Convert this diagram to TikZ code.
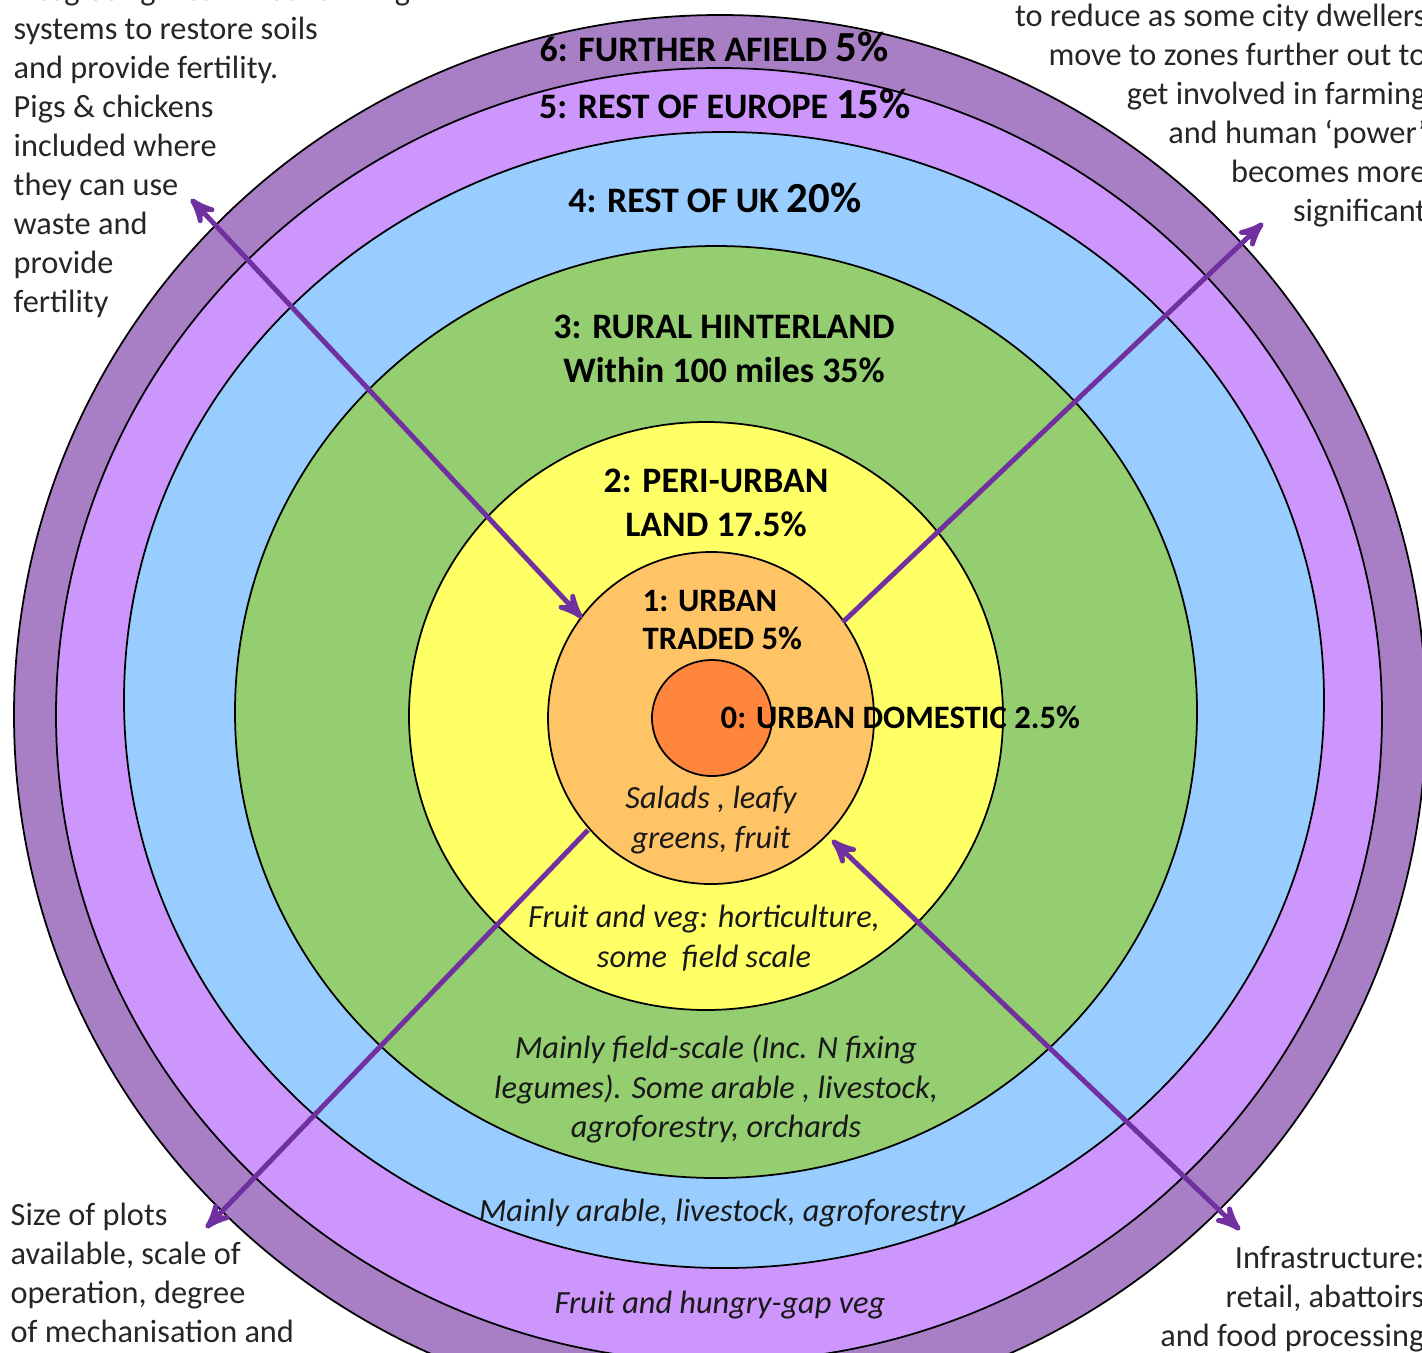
\documentclass[tikz,border=0pt]{standalone}
\usepackage{fontspec}
\setmainfont{Carlito}
\usetikzlibrary{arrows}
\definecolor{furtherpurple}{RGB}{168,127,196}
\definecolor{europelilac}{RGB}{204,150,252}
\definecolor{ukblue}{RGB}{153,204,255}
\definecolor{ruralgreen}{RGB}{148,206,112}
\definecolor{periyellow}{RGB}{255,255,102}
\definecolor{urbanorange}{RGB}{255,196,102}
\definecolor{domesticorange}{RGB}{255,134,60}
\definecolor{arrowpurple}{RGB}{112,48,160}
\definecolor{notegray}{RGB}{38,38,38}

\tikzset{
  zonehead/.style={font=\bfseries\fontsize{10.2}{12.5}\selectfont, align=center, inner sep=0},
  innerhead/.style={font=\bfseries\fontsize{9.3}{11}\selectfont, align=left, inner sep=0},
  zonenote/.style={font=\itshape\fontsize{9.2}{11.2}\selectfont, align=center, inner sep=0, text=black!90},
  sidenote/.style={font=\fontsize{9.2}{11.1}\selectfont, inner sep=0, text=notegray},
  flow/.style={arrowpurple, line width=1.4pt, >=stealth'},
}
\newcommand{\bigpc}[1]{{\fontsize{12.2}{12.5}\selectfont #1}}

\begin{document}
\begin{tikzpicture}[x=0.1mm, y=-0.1mm]
\useasboundingbox (0,0) rectangle (1422,1352);
% zones, from the outside in
\foreach \cx/\cy/\rx/\ry/\col in {720/715/706/700/furtherpurple, 719/715/663/647/europelilac,
  724/700/600/568/ukblue, 716/712/481/466/ruralgreen, 706/716/297/294/periyellow,
  711/718/163/166/urbanorange, 712/718/60/58/domesticorange} {
  \draw[line width=0.5pt, fill=\col] (\cx,\cy) ellipse [x radius=\rx*0.1mm, y radius=\ry*0.1mm];
}

% arrows
\coordinate (nwtip) at (191,199);
\coordinate (nwin) at (582,618);
\coordinate (nein) at (843,622);
\coordinate (netip) at (1263,223);
\coordinate (swin) at (588,830);
\coordinate (swtip) at (206,1228);
\coordinate (sein) at (832,840);
\coordinate (setip) at (1240,1230);
\draw[flow, <->] (nwtip) -- (nwin);
\draw[flow, ->] (nein) -- (netip);
\draw[flow, ->] (swin) -- (swtip);
\draw[flow, <->] (sein) -- (setip);

% zone headings
\node[zonehead] (further) at (714,47) {6: FURTHER AFIELD \bigpc{5\%}};
\node[zonehead] (europe) at (725,104) {5: REST OF EUROPE \bigpc{15\%}};
\node[zonehead] (restuk) at (715,198) {4: REST OF UK \bigpc{20\%}};
\node[zonehead] (rural) at (724,349) {3: RURAL HINTERLAND\\Within 100 miles 35\%};
\node[zonehead] (periurban) at (716,503) {2: PERI-URBAN\\LAND 17.5\%};
\node[innerhead, anchor=west] (urbantraded) at (642,620) {1: URBAN\\TRADED 5\%};
\node[innerhead, anchor=west] (domestic) at (720,717) {0: URBAN DOMESTIC 2.5\%};

% what grows where
\node[zonenote] (salads) at (711,820) {Salads , leafy\\greens, fruit};
\node[zonenote] (fruitveg) at (704,938) {Fruit and veg: horticulture,\\some\ \ field scale};
\node[zonenote] (fieldscale) at (716,1089) {Mainly field-scale (Inc. N fixing\\legumes). Some arable , livestock,\\agroforestry, orchards};
\node[zonenote] (arable) at (722,1213) {Mainly arable, livestock, agroforestry};
\node[zonenote] (hungrygap) at (720,1305) {Fruit and hungry-gap veg};

% side notes
\node[sidenote, anchor=west, align=left] (fertilitynote) at (13,148) {integrating into mixed farming\\systems to restore soils\\and provide fertility.\\Pigs \& chickens\\included where\\they can use\\waste and\\provide\\fertility};
\node[sidenote, anchor=east, align=right] (citynote) at (1427,116) {to reduce as some city dwellers\\move to zones further out to\\get involved in farming\\and human ‘power’\\becomes more\\significant};
\node[sidenote, anchor=west, align=left] (plotnote) at (10,1273) {Size of plots\\available, scale of\\operation, degree\\of mechanisation and};
\node[sidenote, anchor=east, align=right] (infranote) at (1425,1299) {Infrastructure:\\retail, abattoirs\\and food processing};
\end{tikzpicture}
\end{document}
